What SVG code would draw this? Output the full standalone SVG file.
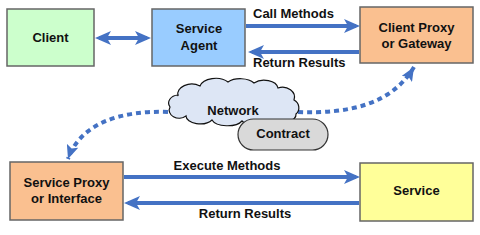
<svg xmlns="http://www.w3.org/2000/svg" width="480" height="235" viewBox="0 0 480 235">
<defs>
<marker id="ah" markerUnits="userSpaceOnUse" markerWidth="16" markerHeight="14" refX="12" refY="7" orient="auto-start-reverse">
<path d="M0,0 L16,7 L0,14 L4,7 Z" fill="#4472c4"/>
</marker>
<marker id="ahd" markerUnits="userSpaceOnUse" markerWidth="14" markerHeight="12" refX="14" refY="6" orient="auto">
<path d="M0,0 L14,6 L0,12 L3,6 Z" fill="#4472c4"/>
</marker>
</defs>
<style>
.box{stroke:#666;stroke-width:1.5}
.t{font-family:"Liberation Sans",Arial,sans-serif;font-weight:bold;font-size:13px;fill:#111;text-anchor:middle}
.lbl{font-family:"Liberation Sans",Arial,sans-serif;font-weight:bold;font-size:13px;fill:#111}
.ln{stroke:#4472c4;stroke-width:4;fill:none}
.dash{stroke:#4472c4;stroke-width:4;fill:none;stroke-dasharray:5 4}
</style>
<rect width="480" height="235" fill="#fff"/>
<g id="connectors">
<line class="ln" x1="99" y1="38" x2="147" y2="38" marker-start="url(#ah)" marker-end="url(#ah)"/>
<line class="ln" x1="246" y1="26" x2="356" y2="26" marker-end="url(#ah)"/>
<line class="ln" x1="359" y1="52" x2="252" y2="52" marker-end="url(#ah)"/>
<line class="ln" x1="124" y1="177" x2="356" y2="177" marker-end="url(#ah)"/>
<line class="ln" x1="359" y1="203" x2="128" y2="203" marker-end="url(#ah)"/>
<path class="dash" d="M298,112 C350,114 392,104 414,67" marker-end="url(#ahd)"/>
<path class="dash" d="M168,112 C120,110 80,124 68,159" marker-end="url(#ahd)"/>
<text class="lbl" x="253" y="18">Call Methods</text>
<text class="lbl" x="253" y="67">Return Results</text>
<text class="t" x="227" y="170">Execute Methods</text>
<text class="t" x="245" y="218">Return Results</text>
</g>
<g id="client">
<rect class="box" x="7" y="9" width="87" height="57" fill="#ccffcc"/>
<text class="t" x="50.5" y="42">Client</text>
</g>
<g id="service-agent">
<rect class="box" x="152" y="9" width="93" height="57" fill="#99ccff"/>
<text class="t" x="199" y="33">Service</text>
<text class="t" x="199" y="50">Agent</text>
</g>
<g id="client-proxy">
<rect class="box" x="360" y="7" width="113" height="56" fill="#fac090"/>
<text class="t" x="416.5" y="32">Client Proxy</text>
<text class="t" x="416.5" y="48">or Gateway</text>
</g>
<g id="network">
<path d="M178,96 a14,10 0 0 1 22,-10 a16,10 0 0 1 28,-4 a16,9 0 0 1 26,1 a14,9 0 0 1 24,5 a12,10 0 0 1 16,12 a10,9 0 0 1 2,14 a14,8 0 0 1 -24,6 a16,8 0 0 1 -30,1 a16,8 0 0 1 -30,-1 a14,8 0 0 1 -26,-4 a10,8 0 0 1 -16,-9 a10,8 0 0 1 8,-12 Z" fill="#dde6f5" stroke="#111" stroke-width="1.2"/>
<text class="t" x="233" y="115">Network</text>
</g>
<g id="contract">
<rect x="238" y="119" width="90" height="31" rx="15.5" fill="#d9d9d9" stroke="#333" stroke-width="1.2"/>
<text class="t" x="283" y="138">Contract</text>
</g>
<g id="service-proxy">
<rect class="box" x="10" y="162" width="113" height="58" fill="#fac090"/>
<text class="t" x="66.5" y="187">Service Proxy</text>
<text class="t" x="66.5" y="203">or Interface</text>
</g>
<g id="service">
<rect class="box" x="360" y="163" width="113" height="58" fill="#ffff99"/>
<text class="t" x="416.5" y="195">Service</text>
</g>
</svg>
